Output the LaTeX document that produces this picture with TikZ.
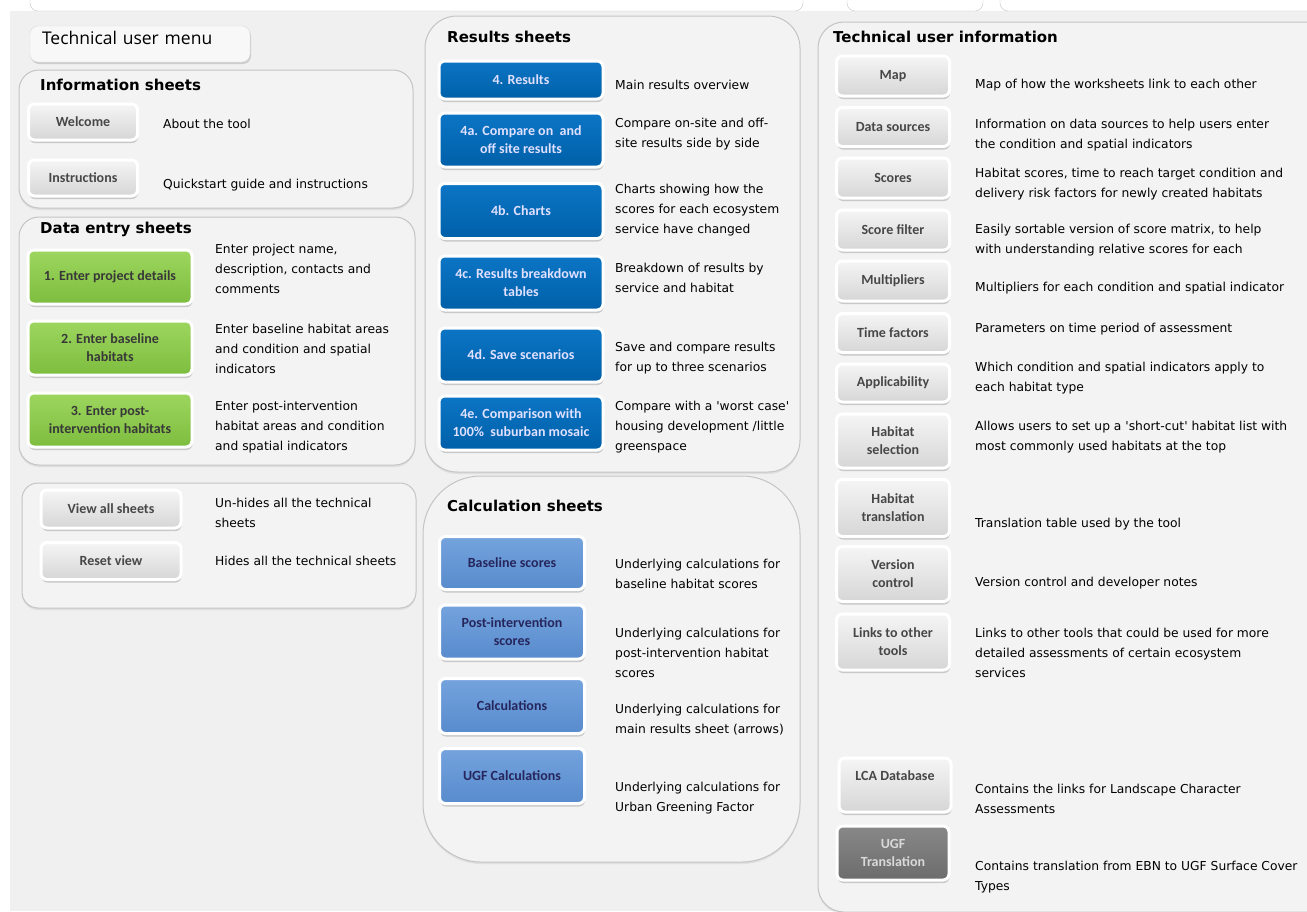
\documentclass[tikz,border=0pt]{standalone}
\usepackage{fontspec}
\setmainfont{Carlito}
\newfontfamily\descfont{DejaVu Sans}
\newfontfamily\menufont{Open Sans}
\usetikzlibrary{shadows}

\definecolor{bggrey}{HTML}{F0F0F0}
\definecolor{panelfill}{HTML}{F3F3F3}
\definecolor{panelline}{HTML}{C4C4C4}
\definecolor{greytop}{HTML}{F5F5F5}
\definecolor{greybot}{HTML}{D6D6D6}
\definecolor{greentop}{HTML}{9DD65F}
\definecolor{greenbot}{HTML}{7DBD3E}
\definecolor{bluetop}{HTML}{0B75C5}
\definecolor{bluebot}{HTML}{0060A8}
\definecolor{calctop}{HTML}{74A3DD}
\definecolor{calcbot}{HTML}{588BCD}
\definecolor{darktop}{HTML}{888888}
\definecolor{darkbot}{HTML}{6C6C6C}

\tikzset{
  panel/.style={draw=panelline, fill=panelfill, line width=1pt,
    drop shadow={shadow xshift=0pt, shadow yshift=-2pt, opacity=.15, fill=black!50}},
  btn/.style={rectangle, rounded corners=6pt, draw=white, line width=3pt,
    inner sep=0pt, align=center, font=\bfseries\fontsize{14}{18}\selectfont,
    drop shadow={shadow xshift=.5pt, shadow yshift=-3pt, opacity=.3, fill=black!60}},
  greybtn/.style={btn, top color=greytop, bottom color=greybot, text=black!72},
  greenbtn/.style={btn, top color=greentop, bottom color=greenbot, text=black!78,
    minimum width=164pt, minimum height=54pt},
  bluebtn/.style={btn, top color=bluetop, bottom color=bluebot, text=white!88!blue,
    minimum width=164pt, minimum height=54pt},
  calcbtn/.style={btn, top color=calctop, bottom color=calcbot, text=blue!25!black!85,
    minimum width=145pt, minimum height=54pt},
  techbtn/.style={greybtn, minimum width=113pt, minimum height=40pt},
  desc/.style={anchor=west, inner sep=0pt, align=left,
    font=\descfont\fontsize{12.3}{20}\selectfont},
  title/.style={anchor=west, inner sep=0pt,
    font=\descfont\bfseries\fontsize{15}{18}\selectfont},
}

\begin{document}
\begin{tikzpicture}[x=1pt, y=-1pt]
	\useasboundingbox (0,0) rectangle (1307,911);
	\clip (0,0) rectangle (1307,911);
	\fill[bggrey] (0,0) rectangle (1307,911);
	
	% top strip and left margin
	\fill[white] (0,0) rectangle (1307,11);
	\draw[panelline, fill=white, rounded corners=8pt] (30,-30) rectangle (803,11);
	\draw[panelline, fill=white, rounded corners=8pt] (847,-30) rectangle (983,11);
	\draw[panelline, fill=white, rounded corners=8pt] (1000,-30) rectangle (1340,11);
	\fill[white] (0,0) rectangle (10,911);
	
	% panels
	\draw[panel, rounded corners=20pt] (19,70) rectangle (413,208);
	\draw[panel, rounded corners=20pt] (19,217) rectangle (415,465);
	\draw[panel, rounded corners=16pt] (22,483) rectangle (416,608);
	\draw[panel, rounded corners=32pt] (425,16) rectangle (800,472);
	\draw[panel, rounded corners=58pt] (423,476) rectangle (800,862);
	\draw[panel, rounded corners=26pt] (1340,22) -- (818,22) -- (818,912) [rounded corners=8pt] -- (1340,912) -- cycle;
	
	\node (menu) at (140,44) [rectangle, rounded corners=8pt, fill=white!55!bggrey, draw=black!14,
		minimum width=220pt, text width=196pt, inner xsep=12pt, inner ysep=0pt,
		text height=18pt, text depth=18pt, align=left, font=\menufont\fontsize{17.5}{20}\selectfont,
		drop shadow={shadow xshift=1pt, shadow yshift=-2pt, opacity=.25, fill=black!60}]{Technical user menu};
	
	% information sheets
	\node (infotitle) at (40,85) [title]{Information sheets};
	\node (welcome) at (83,122) [greybtn, minimum width=109pt, minimum height=36pt]{Welcome};
	\node (instructions) at (83,178) [greybtn, minimum width=109pt, minimum height=36pt]{Instructions};
	\node (dwelcome) at (163,124) [desc]{About the tool};
	\node (dinstructions) at (163,185) [desc]{Quickstart guide and instructions};
	
	% data entry sheets
	\node (datatitle) at (40,229) [title]{Data entry sheets};
	\node (enter1) at (110,277) [greenbtn]{1. Enter project details};
	\node (enter2) at (110,348) [greenbtn]{2. Enter baseline\\habitats};
	\node (enter3) at (110,420) [greenbtn]{3. Enter post-\\intervention habitats};
	\node (denter1) at (215,269) [desc]{Enter project name,\\description, contacts and\\comments};
	\node (denter2) at (215,349) [desc]{Enter baseline habitat areas\\and condition and spatial\\indicators};
	\node (denter3) at (215,427) [desc]{Enter post-intervention\\habitat areas and condition\\and spatial indicators};
	
	% view buttons
	\node (viewall) at (111,509) [greybtn, minimum width=140pt, minimum height=38pt]{View all sheets};
	\node (resetview) at (111,561) [greybtn, minimum width=140pt, minimum height=37pt]{Reset view};
	\node (dviewall) at (215,513) [desc]{Un-hides all the technical\\sheets};
	\node (dresetview) at (215,561) [desc]{Hides all the technical sheets};
	
	% results sheets
	\node (restitle) at (447,37) [title]{Results sheets};
	\node (res4) at (521,80) [bluebtn, minimum height=38pt]{4. Results};
	\node (res4a) at (521,140) [bluebtn]{4a. Compare on\ \ and\\off site results};
	\node (res4b) at (521,211) [bluebtn, minimum height=55pt]{4b. Charts};
	\node (res4c) at (521,283) [bluebtn]{4c. Results breakdown\\tables};
	\node (res4d) at (521,355) [bluebtn]{4d. Save scenarios};
	\node (res4e) at (521,423) [bluebtn]{4e. Comparison with\\100\%\ \ suburban mosaic};
	\node (dres4) at (615,85) [desc]{Main results overview};
	\node (dres4a) at (615,134) [desc]{Compare on-site and off-\\site results side by side};
	\node (dres4b) at (615,210) [desc]{Charts showing how the\\scores for each ecosystem\\service have changed};
	\node (dres4c) at (615,278) [desc]{Breakdown of results by\\service and habitat};
	\node (dres4d) at (615,358) [desc]{Save and compare results\\for up to three scenarios};
	\node (dres4e) at (615,427) [desc]{Compare with a 'worst case'\\housing development /little\\greenspace};
	
	% calculation sheets
	\node (calctitle) at (447,506) [title]{Calculation sheets};
	\node (basescores) at (512,563) [calcbtn, minimum height=53pt]{Baseline scores};
	\node (postscores) at (512,632) [calcbtn]{Post-intervention\\scores};
	\node (calcs) at (512,706) [calcbtn, minimum height=55pt]{Calculations};
	\node (ugfcalcs) at (512,776) [calcbtn, minimum height=55pt]{UGF Calculations};
	\node (dbasescores) at (615,574) [desc]{Underlying calculations for\\baseline habitat scores};
	\node (dpostscores) at (615,653) [desc]{Underlying calculations for\\post-intervention habitat\\scores};
	\node (dcalcs) at (615,720) [desc]{Underlying calculations for\\main results sheet (arrows)};
	\node (dugfcalcs) at (615,798) [desc]{Underlying calculations for\\Urban Greening Factor};
	
	% technical user information
	\node (techtitle) at (833,37) [title]{Technical user information};
	\node (map) at (893,76) [techbtn]{Map};
	\node (datasrc) at (893,127) [techbtn, minimum height=39pt]{Data sources};
	\node (scores) at (893,178) [techbtn]{Scores};
	\node (scorefilter) at (893,230) [techbtn]{Score filter};
	\node (multipliers) at (893,281) [techbtn]{Multipliers};
	\node (timefactors) at (893,333) [techbtn, minimum height=39pt]{Time factors};
	\node (applicability) at (893,383) [techbtn, minimum height=38pt]{Applicability};
	\node (habsel) at (893,441) [techbtn, minimum height=54pt]{Habitat\\selection};
	\node (habtrans) at (893,508) [techbtn, minimum height=57pt]{Habitat\\translation};
	\node (version) at (893,574) [techbtn, minimum height=55pt]{Version\\control};
	\node (links) at (893,642) [techbtn, minimum height=56pt]{Links to other\\tools};
	\node (lca) at (895,785) [techbtn, minimum width=112pt, minimum height=54pt]{LCA Database\\~};
	\node (ugftrans) at (893,853) [btn, top color=darktop, bottom color=darkbot, text=white!85!black,
		minimum width=112pt, minimum height=54pt]{UGF\\Translation};
	\node (dmap) at (975,85) [desc]{Map of how the worksheets link to each other};
	\node (ddatasrc) at (975,135) [desc]{Information on data sources to help users enter\\the condition and spatial indicators};
	\node (dscores) at (975,184) [desc]{Habitat scores, time to reach target condition and\\delivery risk factors for newly created habitats};
	\node (dscorefilter) at (975,240) [desc]{Easily sortable version of score matrix, to help\\with understanding relative scores for each};
	\node (dmultipliers) at (975,288) [desc]{Multipliers for each condition and spatial indicator};
	\node (dtimefactors) at (975,329) [desc]{Parameters on time period of assessment};
	\node (dapplicability) at (975,378) [desc]{Which condition and spatial indicators apply to\\each habitat type};
	\node (dhabsel) at (975,437) [desc]{Allows users to set up a 'short-cut' habitat list with\\most commonly used habitats at the top};
	\node (dhabtrans) at (975,524) [desc]{Translation table used by the tool};
	\node (dversion) at (975,583) [desc]{Version control and developer notes};
	\node (dlinks) at (975,653) [desc]{Links to other tools that could be used for more\\detailed assessments of certain ecosystem\\services};
	\node (dlca) at (975,799) [desc]{Contains the links for Landscape Character\\Assessments};
	\node (dugftrans) at (975,877) [desc]{Contains translation from EBN to UGF Surface Cover\\Types};
	
\end{tikzpicture}
\end{document}
